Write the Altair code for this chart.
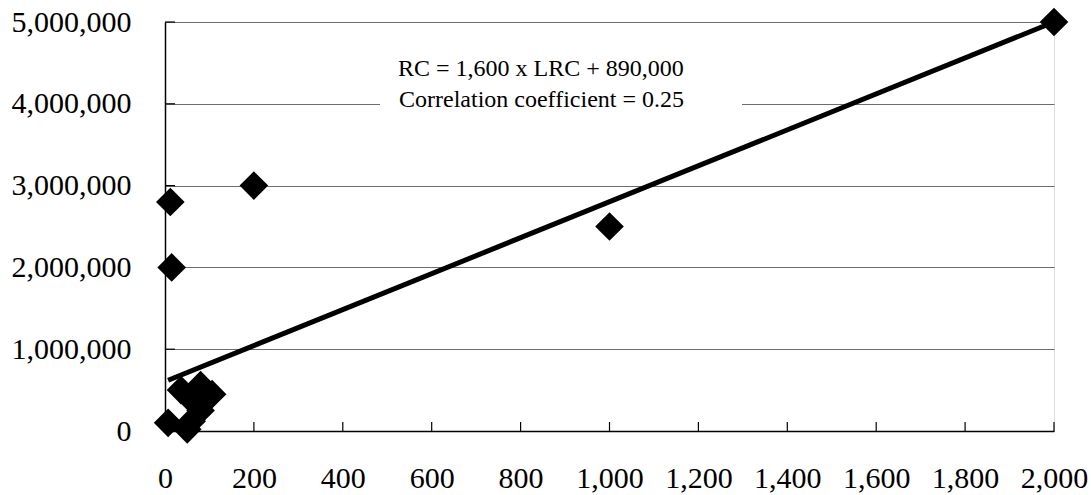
import altair as alt
import pandas as pd

# Data
lrc = [2000, 1000, 200, 12, 15, 7, 36, 80, 106, 80, 60, 50, 65]
rc = [5000000, 2500000, 3000000, 2800000, 2000000, 100000, 500000, 560000,
      450000, 250000, 120000, 20000, 350000]

trend_x = [7, 2000]
trend_y = [620000, 5000000]

x_ticks = [0, 200, 400, 600, 800, 1000, 1200, 1400, 1600, 1800, 2000]
y_ticks = [0, 1000000, 2000000, 3000000, 4000000, 5000000]

ann_line1 = "RC = 1,600 x LRC + 890,000"
ann_line2 = "Correlation coefficient = 0.25"

FONT = "Liberation Serif"

pts = pd.DataFrame({"LRC": lrc, "RC": rc})
trend = pd.DataFrame({"LRC": trend_x, "RC": trend_y})
xt = pd.DataFrame({"LRC": x_ticks})
yt = pd.DataFrame({"RC": y_ticks})

xscale = alt.Scale(domain=[0, 2000], nice=False, zero=True)
yscale = alt.Scale(domain=[0, 5000000], nice=False)

xaxis = alt.Axis(values=x_ticks, format=",d", labelFont=FONT, labelFontSize=30,
                 labelColor="black", labelPadding=32, ticks=False, grid=False,
                 labelOverlap=False, labelFlush=False,
                 domainColor="black", domainWidth=1.5, title=None)
yaxis = alt.Axis(values=y_ticks, format=",d", labelFont=FONT, labelFontSize=30,
                 labelColor="black", labelPadding=34, ticks=False, grid=True,
                 labelOverlap=False, labelFlush=False,
                 gridColor="#6e6e6e", gridWidth=1.2, gridOpacity=1,
                 domainColor="black", domainWidth=1.5, title=None)

X = alt.X("LRC:Q", scale=xscale, axis=xaxis)
Y = alt.Y("RC:Q", scale=yscale, axis=yaxis)

base_pts = alt.Chart(pts).mark_point(shape="diamond", filled=True, size=820,
                                     color="black", opacity=1).encode(x=X, y=Y)

xtick_layer = alt.Chart(xt).mark_rule(color="black", strokeWidth=1.2).encode(
    x=X, y=alt.value(409), y2=alt.value(400),
)
ytick_layer = alt.Chart(yt).mark_rule(color="black", strokeWidth=1.2).encode(
    y=Y, x=alt.value(0), x2=alt.value(10),
)

box = alt.Chart(pd.DataFrame({"a": [0]})).mark_rect(color="white").encode(
    x=alt.value(215), x2=alt.value(577), y=alt.value(33), y2=alt.value(92),
)

text1 = alt.Chart(pd.DataFrame({"t": [ann_line1]})).mark_text(
    align="left", baseline="middle", font=FONT, fontSize=24, color="black").encode(
    x=alt.value(233), y=alt.value(47), text="t:N")
text2 = alt.Chart(pd.DataFrame({"t": [ann_line2]})).mark_text(
    align="left", baseline="middle", font=FONT, fontSize=24, color="black").encode(
    x=alt.value(234), y=alt.value(78), text="t:N")

line = alt.Chart(trend).mark_line(color="black", strokeWidth=5).encode(x=X, y=Y)

chart = alt.layer(base_pts, xtick_layer, ytick_layer, box, text1, text2, line).properties(
    width=889, height=409,
    autosize=alt.AutoSizeParams(type="none"),
    padding={"left": 165, "top": 22, "right": 37, "bottom": 64},
).configure_view(stroke=None).configure(background="white")

chart.save("out.html", embed_options={"renderer": "svg", "actions": False})
